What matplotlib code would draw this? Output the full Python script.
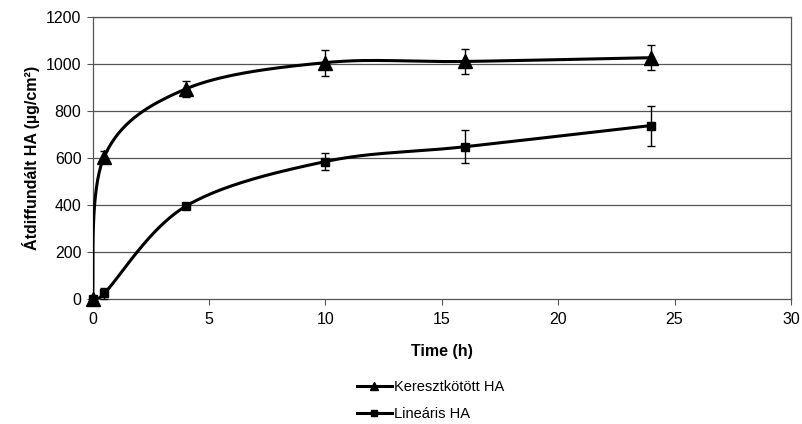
import numpy as np
import matplotlib.pyplot as plt
from matplotlib.lines import Line2D

plt.rcParams['font.family'] = ['Liberation Sans', 'DejaVu Sans']

# time points (h)
t = [0, 0.5, 4, 10, 16, 24]

kereszt = [0, 605, 893, 1005, 1010, 1026]
kereszt_err = [0, 25, 35, 55, 55, 53]

linearis = [0, 25, 395, 585, 648, 738]
linearis_err = [0, 25, 10, 35, 70, 85]

xticks = [0, 5, 10, 15, 20, 25, 30]
yticks = [0, 200, 400, 600, 800, 1000, 1200]


def smooth(x, y, n=40):
    # excel-like smoothed line (catmull-rom as bezier segments)
    x = np.asarray(x, float)
    y = np.asarray(y, float)
    P = np.column_stack([x, y])
    P = np.vstack([P[0], P, P[-1]])
    out = []
    s = np.linspace(0, 1, n)[:, None]
    for i in range(1, len(P) - 2):
        p0, p1, p2, p3 = P[i - 1], P[i], P[i + 1], P[i + 2]
        c1 = p1 + (p2 - p0) / 6
        c2 = p2 - (p3 - p1) / 6
        seg = ((1 - s) ** 3) * p1 + 3 * ((1 - s) ** 2) * s * c1 + 3 * (1 - s) * s ** 2 * c2 + s ** 3 * p2
        out.append(seg)
    out = np.vstack(out)
    return out[:, 0], out[:, 1]


fig = plt.figure(figsize=(8.03, 4.24), dpi=100)
ax = fig.add_axes([0.1152, 0.294, 0.985 - 0.1152, 0.9606 - 0.294])

for yv in yticks[1:]:
    ax.axhline(yv, color='#555555', lw=0.9, zorder=1)

xs, ys = smooth(t, kereszt)
ax.plot(xs, ys, color='black', lw=2.2, zorder=3)
ax.errorbar(t, kereszt, yerr=kereszt_err, fmt='^', color='black', ms=10,
            ecolor='black', elinewidth=1, capsize=3, capthick=1, zorder=5,
            clip_on=False)

xs, ys = smooth(t, linearis)
ax.plot(xs, ys, color='black', lw=2.2, zorder=3)
ax.errorbar(t, linearis, yerr=linearis_err, fmt='s', color='black', ms=6,
            ecolor='black', elinewidth=1, capsize=3, capthick=1, zorder=4,
            clip_on=False)

ax.set_xlim(0, 30)
ax.set_ylim(0, 1200)
ax.set_xticks(xticks)
ax.set_yticks(yticks)
ax.tick_params(axis='x', direction='out', length=4, color='#555555', labelsize=11.5, pad=5)
ax.tick_params(axis='y', direction='out', length=4, color='#555555', labelsize=11.5, pad=4)
for sp in ax.spines.values():
    sp.set_color('#555555')
    sp.set_linewidth(0.9)

ax.set_xlabel('Time (h)', fontsize=11.5, fontweight='bold', labelpad=12)
ax.set_ylabel('Átdiffundált HA (µg/cm²)', fontsize=11.5, fontweight='bold', labelpad=4)

handles = [
    Line2D([], [], color='black', lw=2.2, marker='^', ms=6),
    Line2D([], [], color='black', lw=2.2, marker='s', ms=5),
]
fig.legend(handles, ['Keresztkötött HA', 'Lineáris HA'], loc='center left',
           bbox_to_anchor=(0.444, 0.055), frameon=False, fontsize=10.5,
           handlelength=2.4, handletextpad=0.2, labelspacing=0.9,
           borderaxespad=0, borderpad=0)

fig.savefig('out.png', dpi=100)
